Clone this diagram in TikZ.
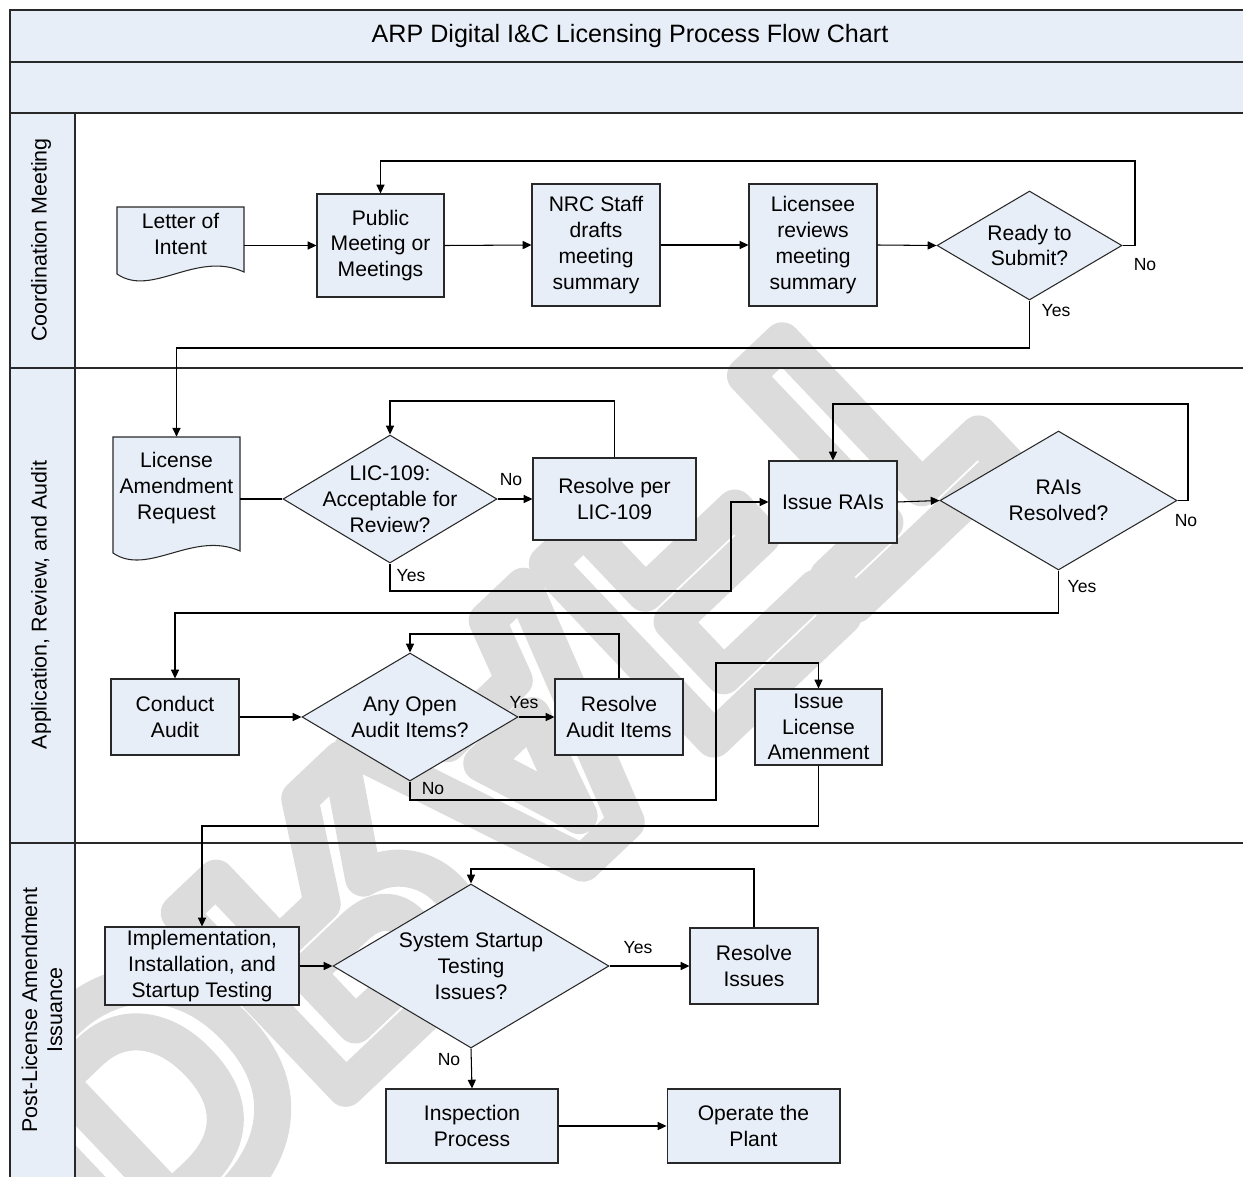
\documentclass[tikz,border=0pt]{standalone}
\usepackage{fontspec}
\setmainfont{Liberation Sans}
\usetikzlibrary{positioning,shapes.geometric,arrows.meta}
\definecolor{boxfill}{RGB}{232,238,247}
\definecolor{wmgray}{RGB}{220,220,220}
\definecolor{edge}{RGB}{40,40,40}
\newcommand{\outlinetext}[1]{\special{pdf:literal direct 1 Tr 21 w 1 j}#1\special{pdf:literal direct 0 Tr}}

\begin{document}
\begin{tikzpicture}[x=0.02cm, y=-0.02cm,
    box/.style = {draw=edge, fill=boxfill, line width=0.6pt, align=center, inner sep=1pt, font=\fontsize{12}{14.7}\selectfont},
    doc/.style = {draw=edge, fill=boxfill, line width=0.6pt},
    doctext/.style = {align=center, inner sep=1pt, font=\fontsize{12}{14.7}\selectfont},
    decision/.style = {diamond, draw=edge, fill=boxfill, line width=0.6pt, inner sep=0pt},
    dtext/.style = {align=center, inner sep=0pt, font=\fontsize{12}{14.7}\selectfont},
    flow/.style = {line width=0.6pt, -{Triangle[length=5pt,width=4.6pt]}},
    link/.style = {line width=0.6pt},
    tag/.style = {font=\fontsize{10}{12}\selectfont, inner sep=0pt},
    lane/.style = {draw=edge, line width=0.8pt},
    lanetext/.style = {rotate=90, align=center, font=\fontsize{12.2}{14.2}\selectfont}]
  \useasboundingbox (0,0) rectangle (1243,1176);

  \node[rotate=43.5, yscale=-1, anchor=base, text=wmgray, inner sep=0pt] (mark) at (410,694)
    {\fontsize{200}{200}\selectfont\bfseries\outlinetext{DRAFT}};

  \fill[white] (0,0) rectangle (10,1180);
  \fill[boxfill] (10,10) rectangle (1250,113);
  \fill[boxfill] (10,113) rectangle (75,1180);
  \draw[lane] (1250,10) -- (10,10) -- (10,1180);
  \draw[lane] (10,62) -- (1250,62);
  \draw[lane] (10,113) -- (1250,113);
  \draw[lane] (10,368) -- (1250,368);
  \draw[lane] (10,843) -- (1250,843);
  \draw[lane] (75,113) -- (75,1180);

  \node[font=\fontsize{14.3}{17}\selectfont] (title) at (630,36) {ARP Digital I\&C Licensing Process Flow Chart};
  \node[lanetext] (lane1) at (41,240) {Coordination Meeting};
  \node[lanetext] (lane2) at (41,605) {Application, Review, and Audit};
  \node[lanetext] (lane3) at (42,1010) {Post-License Amendment\\Issuance};

  \filldraw[doc] (117,207) -- (117,274) .. controls (152,298) and (196,250) .. (244,272) -- (244,207) -- cycle;
  \filldraw[doc] (113,437) -- (113,553) .. controls (148,577) and (193,530) .. (240,551) -- (240,437) -- cycle;

  \node[doctext, minimum width=2.54cm, minimum height=1.08cm] (loi) at (180.5,234) {Letter of\\Intent};
  \node[box, minimum width=2.54cm, minimum height=2.06cm] (pub) at (380.5,245.5) {Public\\Meeting or\\Meetings};
  \node[box, minimum width=2.56cm, minimum height=2.44cm] (nrc) at (596,245) {NRC Staff\\drafts\\meeting\\summary};
  \node[box, minimum width=2.56cm, minimum height=2.44cm] (lrev) at (813,245) {Licensee\\reviews\\meeting\\summary};
  \node[decision, minimum width=3.7cm, minimum height=2.18cm, label={[dtext]center:Ready to\\Submit?}] (ready) at (1029.5,245.5) {};

  \node[doctext, minimum width=2.54cm, minimum height=2.04cm] (lar) at (176.5,488) {License\\Amendment\\Request};
  \node[decision, minimum width=4.28cm, minimum height=2.56cm, label={[dtext]center:LIC-109:\\Acceptable for\\Review?}] (acc) at (390,499) {};
  \node[box, minimum width=3.26cm, minimum height=1.64cm] (res109) at (614.5,499) {Resolve per\\LIC-109};
  \node[box, minimum width=2.56cm, minimum height=1.64cm] (rai) at (833,502) {Issue RAIs};
  \node[decision, minimum width=4.74cm, minimum height=2.78cm, label={[dtext]center:RAIs\\Resolved?}] (raires) at (1058.5,500.5) {};
  \node[box, minimum width=2.56cm, minimum height=1.52cm] (audit) at (175,717) {Conduct\\Audit};
  \node[decision, minimum width=4.32cm, minimum height=2.56cm, label={[dtext]center:Any Open\\Audit Items?}] (open) at (410,717) {};
  \node[box, minimum width=2.56cm, minimum height=1.52cm] (resaud) at (619,717) {Resolve\\Audit Items};
  \node[box, minimum width=2.54cm, minimum height=1.52cm] (issue) at (818.5,727) {Issue\\License\\Amenment};

  \node[box, minimum width=3.88cm, minimum height=1.56cm] (impl) at (202,966) {Implementation,\\Installation, and\\Startup Testing};
  \node[decision, minimum width=5.52cm, minimum height=3.28cm, label={[dtext]center:System Startup\\Testing\\Issues?}] (sys) at (471,966) {};
  \node[box, minimum width=2.56cm, minimum height=1.52cm] (resiss) at (754,966) {Resolve\\Issues};
  \node[box, minimum width=3.44cm, minimum height=1.48cm] (insp) at (472,1126) {Inspection\\Process};
  \node[box, minimum width=3.46cm, minimum height=1.48cm] (oper) at (753.5,1126) {Operate the\\Plant};

  \coordinate (loop1) at (1135,161);
  \coordinate (yes1) at (600,348);
  \coordinate (loop2) at (500,401);
  \coordinate (yes2) at (731,591);
  \coordinate (loop3) at (1188,404);
  \coordinate (yes3) at (600,613);
  \coordinate (loop4) at (500,634);
  \coordinate (no4) at (716,800);
  \coordinate (up4) at (716,663);
  \coordinate (done) at (500,826);
  \coordinate (loop5) at (600,869);

  \draw[flow] (loi.east |- pub.west) -- (pub.west);
  \draw[flow] (pub.east) -- (nrc.west);
  \draw[flow] (nrc.east) -- (lrev.west);
  \draw[flow] (lrev.east) -- (ready.west);
  \draw[flow] (ready.east) -| (loop1) -| (pub.north);
  \draw[flow] (ready.south) |- (yes1) -| (lar.north);
  \draw[link] (lar.east |- acc.west) -- (acc.west);
  \draw[flow] (acc.east) -- (res109.west);
  \draw[flow] (res109.north) |- (loop2) -| (acc.north);
  \draw[flow] (acc.south) |- (yes2) |- (rai.west);
  \draw[flow] (rai.east) -- (raires.west);
  \draw[flow] (raires.east) -| (loop3) -| (rai.north);
  \draw[flow] (raires.south) |- (yes3) -| (audit.north);
  \draw[flow] (audit.east) -- (open.west);
  \draw[flow] (open.east) -- (resaud.west);
  \draw[flow] (resaud.north) |- (loop4) -| (open.north);
  \draw[flow] (open.south) |- (no4) -- (up4) -| (issue.north);
  \draw[flow] (issue.south) |- (done) -| (impl.north);
  \draw[flow] (impl.east) -- (sys.west);
  \draw[flow] (sys.east) -- (resiss.west);
  \draw[flow] (resiss.north) |- (loop5) -| (sys.north);
  \draw[flow] (sys.south) -- (insp.north);
  \draw[flow] (insp.east) -- (oper.west);

  \node[tag] (no1) at (1145,265) {No};
  \node[tag] (yes1t) at (1056,311) {Yes};
  \node[tag] (no2) at (511,480) {No};
  \node[tag] (yes2t) at (411,576) {Yes};
  \node[tag] (no3) at (1186,521) {No};
  \node[tag] (yes3t) at (1082,587) {Yes};
  \node[tag] (yes4t) at (524,703) {Yes};
  \node[tag] (no4t) at (433,789) {No};
  \node[tag] (yes5t) at (638,948) {Yes};
  \node[tag] (no5) at (449,1060) {No};
\end{tikzpicture}
\end{document}
